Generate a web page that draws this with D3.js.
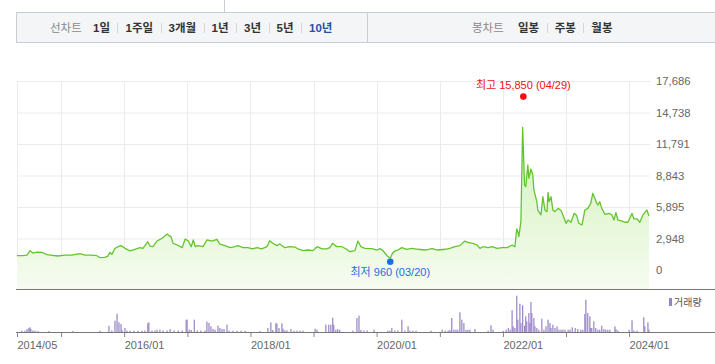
<!DOCTYPE html>
<html>
<head>
<meta charset="utf-8">
<script src="https://cdn.jsdelivr.net/npm/d3@7"></script>
<style>
body { margin: 0; background: #fff; }
svg { display: block; font-family: "Liberation Sans", "Noto Sans CJK KR", sans-serif; }
</style>
</head>
<body>
<div id="chart"></div>
<script>
// Period / chart type tabs
var periodTabs = ["1일", "1주일", "3개월", "1년", "3년", "5년", "10년"];
var activePeriod = "10년";
var candleTabs = ["일봉", "주봉", "월봉"];

// Y axis ticks
var yTicks = [0, 2948, 5895, 8843, 11791, 14738, 17686];

// X axis ticks (first one is the start of the range)
var xTickDates = ["2014-04-21", "2015-01-01", "2016-01-01", "2017-01-01", "2018-01-01", "2019-01-01",
                  "2020-01-01", "2021-01-01", "2022-01-01", "2023-01-01", "2024-01-01"];
var xTickLabels = ["2014/05", "", "2016/01", "", "2018/01", "", "2020/01", "", "2022/01", "", "2024/01"];

// High / low markers
var highPoint = { date: "2022-04-29", value: 15850, label: "최고 15,850 (04/29)" };
var lowPoint = { date: "2020-03-20", value: 960, label: "최저 960 (03/20)" };

// Closing price
var price = [
["2014-04-21",1340],["2014-05-25",1340],["2014-06-18",1400],["2014-07-05",1810],["2014-07-22",1590],["2014-08-15",1680],
["2014-09-13",1650],["2014-10-12",1430],["2014-11-10",1370],["2014-12-14",1310],["2015-01-24",1400],["2015-03-04",1400],
["2015-04-20",1530],["2015-05-19",1400],["2015-06-28",1400],["2015-07-27",1340],["2015-08-14",1150],["2015-09-12",1180],
["2015-09-29",1300],["2015-10-11",1650],["2015-10-22",1460],["2015-11-09",2030],["2015-11-26",2180],["2015-12-14",2280],
["2016-01-06",2030],["2016-02-05",1780],["2016-03-03",1940],["2016-04-02",2090],["2016-04-19",2030],["2016-05-17",2650],
["2016-05-29",2240],["2016-06-16",2180],["2016-07-09",2710],["2016-08-07",2960],["2016-09-06",3370],["2016-09-17",3210],
["2016-09-28",3120],["2016-10-10",2500],["2016-11-03",2340],["2016-12-02",2090],["2016-12-19",2900],["2017-01-06",2710],
["2017-01-23",2180],["2017-02-04",2810],["2017-02-16",2180],["2017-03-03",2280],["2017-04-01",2180],["2017-04-24",2810],
["2017-05-23",2710],["2017-06-21",2870],["2017-07-08",2430],["2017-08-07",2280],["2017-09-05",2090],["2017-10-04",2180],
["2017-10-21",2280],["2017-11-19",2090],["2017-12-18",2090],["2018-01-10",1970],["2018-02-09",2090],["2018-03-07",1970],
["2018-04-06",2180],["2018-04-23",2740],["2018-05-10",2500],["2018-06-03",2280],["2018-06-20",2430],["2018-07-19",2090],
["2018-08-17",2180],["2018-09-16",2150],["2018-10-03",1970],["2018-11-01",1810],["2018-11-30",1870],["2018-12-29",1810],
["2019-01-21",2180],["2019-02-20",1970],["2019-03-18",1970],["2019-04-05",2090],["2019-04-22",2500],["2019-05-15",2180],
["2019-06-14",2180],["2019-07-12",1940],["2019-07-29",1710],["2019-08-28",1810],["2019-09-15",2710],["2019-10-02",2180],
["2019-10-25",2030],["2019-12-05",2000],["2020-01-04",1870],["2020-01-21",2000],["2020-02-08",1780],["2020-03-01",1340],
["2020-03-20",1090],["2020-04-02",1560],["2020-04-16",1780],["2020-05-03",1870],["2020-05-26",2090],["2020-06-24",1940],
["2020-07-23",2030],["2020-08-27",1940],["2020-10-07",1870],["2020-11-17",2000],["2020-12-21",1870],["2021-02-01",1940],
["2021-02-28",2030],["2021-03-29",2180],["2021-04-27",2280],["2021-05-25",2710],["2021-06-12",2590],["2021-07-11",2500],
["2021-08-04",2340],["2021-08-21",2030],["2021-09-08",2180],["2021-10-07",2090],["2021-10-30",2180],["2021-11-28",2030],
["2021-12-27",2090],["2022-01-25",2090],["2022-02-23",2340],["2022-03-11",2180],["2022-03-22",3840],["2022-03-28",3590],
["2022-04-03",3120],["2022-04-15",4520],["2022-04-25",13350],["2022-05-01",10450],["2022-05-06",7950],["2022-05-13",7800],
["2022-05-25",9830],["2022-05-31",8580],["2022-06-12",9450],["2022-06-23",8890],["2022-06-29",7490],["2022-07-16",6390],
["2022-07-22",5610],["2022-08-09",5150],["2022-08-20",6860],["2022-09-01",5610],["2022-09-13",5460],["2022-09-19",7270],
["2022-09-25",6390],["2022-10-06",6860],["2022-10-17",5610],["2022-10-29",5460],["2022-11-16",5770],["2022-12-03",5560],
["2022-12-14",5150],["2023-01-01",4370],["2023-01-13",4680],["2023-01-30",4470],["2023-02-17",5300],["2023-03-04",5090],
["2023-03-16",4370],["2023-04-03",4210],["2023-04-20",5610],["2023-05-07",5770],["2023-05-24",6240],["2023-06-05",7180],
["2023-06-28",6240],["2023-07-04",6080],["2023-07-15",6390],["2023-07-27",5770],["2023-08-14",5210],["2023-09-07",5300],
["2023-09-24",5150],["2023-10-05",4680],["2023-10-17",5370],["2023-10-28",4680],["2023-11-21",4580],["2023-12-08",4470],
["2023-12-25",4470],["2024-01-18",5300],["2024-01-29",4790],["2024-02-16",4790],["2024-03-03",4470],["2024-03-21",5150],
["2024-04-13",5610],["2024-04-25",5050]
];

// Volume (relative units)
var volume = [
["2014-05-19",13],["2014-06-06",13],["2014-06-18",30],["2014-06-29",40],["2014-07-05",47],["2014-07-10",30],["2014-07-22",15],
["2014-08-03",13],["2014-08-20",10],["2014-10-23",10],["2015-03-10",10],["2015-08-14",13],["2015-10-05",63],["2015-10-22",15],
["2015-11-09",113],["2015-11-21",183],["2015-12-02",97],["2015-12-14",80],["2015-12-19",20],["2016-01-06",40],["2016-01-18",13],
["2016-02-05",13],["2016-02-27",13],["2016-03-21",13],["2016-04-13",13],["2016-04-30",15],["2016-05-17",87],["2016-05-23",97],
["2016-06-10",15],["2016-06-27",15],["2016-07-09",23],["2016-07-26",23],["2016-08-13",15],["2016-09-06",15],["2016-09-23",30],
["2016-10-16",15],["2016-11-09",15],["2016-12-02",15],["2016-12-25",123],["2016-12-30",123],["2017-01-11",25],["2017-01-23",20],
["2017-02-10",123],["2017-02-27",15],["2017-03-20",15],["2017-04-13",15],["2017-04-24",103],["2017-05-06",90],["2017-05-17",57],
["2017-05-29",30],["2017-06-10",23],["2017-06-27",63],["2017-07-08",40],["2017-07-20",30],["2017-08-01",30],["2017-08-18",73],
["2017-08-30",13],["2017-09-22",13],["2017-10-15",13],["2017-11-08",13],["2017-12-01",13],["2018-02-26",10],["2018-04-12",40],
["2018-04-29",97],["2018-05-10",20],["2018-05-28",87],["2018-06-03",87],["2018-06-15",40],["2018-07-02",87],["2018-07-08",33],
["2018-07-19",17],["2018-07-31",17],["2018-08-23",30],["2018-09-10",13],["2018-09-27",13],["2018-10-14",13],["2018-11-01",13],
["2019-01-10",33],["2019-01-21",23],["2019-03-13",73],["2019-03-30",73],["2019-04-11",73],["2019-04-22",143],["2019-04-28",73],
["2019-05-10",23],["2019-05-21",30],["2019-06-02",23],["2019-08-17",13],["2019-09-09",140],["2019-09-21",163],["2019-10-02",20],
["2019-10-19",15],["2019-11-07",15],["2019-12-17",23],["2020-03-06",13],["2020-03-18",13],["2020-03-29",40],["2020-04-16",15],
["2020-05-03",15],["2020-05-26",123],["2020-06-13",15],["2020-07-01",57],["2020-07-12",13],["2020-07-29",13],["2020-08-16",13],
["2020-11-11",13],["2021-01-14",23],["2021-02-01",13],["2021-02-18",13],["2021-02-28",20],["2021-03-11",140],["2021-03-23",23],
["2021-04-04",23],["2021-04-15",23],["2021-04-27",197],["2021-05-08",123],["2021-05-20",90],["2021-06-01",20],["2021-06-12",23],
["2021-06-24",23],["2021-07-23",30],["2021-10-07",13],["2021-10-24",67],["2021-11-05",23],["2022-01-02",13],["2022-01-19",23],
["2022-02-01",40],["2022-02-12",23],["2022-02-23",217],["2022-03-01",57],["2022-03-11",40],["2022-03-22",363],["2022-03-28",123],
["2022-04-09",283],["2022-04-15",90],["2022-04-25",267],["2022-05-06",63],["2022-05-13",157],["2022-05-19",107],["2022-05-31",190],
["2022-06-06",90],["2022-06-12",300],["2022-06-17",190],["2022-06-29",140],["2022-07-05",57],["2022-07-16",40],["2022-07-28",23],
["2022-08-14",133],["2022-08-26",23],["2022-09-07",57],["2022-09-19",123],["2022-09-30",90],["2022-10-06",40],["2022-10-17",73],
["2022-10-29",40],["2022-11-10",57],["2022-11-21",23],["2022-12-03",23],["2022-12-14",23],["2022-12-26",23],["2023-01-13",23],
["2023-01-24",23],["2023-02-06",47],["2023-02-23",40],["2023-03-10",30],["2023-03-27",23],["2023-04-08",23],["2023-04-20",180],
["2023-04-26",323],["2023-05-07",190],["2023-05-19",157],["2023-05-24",40],["2023-05-30",40],["2023-06-11",107],["2023-06-22",40],
["2023-07-04",23],["2023-07-15",23],["2023-07-27",63],["2023-08-08",30],["2023-08-19",23],["2023-08-31",23],["2023-09-12",23],
["2023-10-11",57],["2023-10-17",30],["2023-10-28",15],["2024-01-01",23],["2024-01-18",117],["2024-01-29",15],["2024-02-16",13],
["2024-03-26",147],["2024-04-01",57],["2024-04-19",97],["2024-04-25",23]
];

var svgWidth = 715, svgHeight = 364;
var plot = { left: 17, right: 650, top: 81, zero: 270, bottom: 289, volBottom: 332 };
var parseDate = d3.timeParse("%Y-%m-%d");

var svg = d3.select("#chart").append("svg")
    .attr("width", svgWidth)
    .attr("height", svgHeight);

// ---------- top tab bar ----------
svg.append("line")
    .attr("x1", 224.5).attr("x2", 224.5).attr("y1", 0).attr("y2", 12)
    .attr("stroke", "#c9cdd3");
svg.append("rect")
    .attr("x", 16.5).attr("y", 12.5)
    .attr("width", svgWidth).attr("height", 30)
    .attr("fill", "#f4f5f7")
    .attr("stroke", "#c9cdd3");
svg.append("line")
    .attr("x1", 367.5).attr("x2", 367.5).attr("y1", 12).attr("y2", 43)
    .attr("stroke", "#c9cdd3");

function drawTabs(label, labelX, tabs, startX, active) {
    var g = svg.append("g").attr("font-size", "11.5px");
    g.append("text").attr("x", labelX).attr("y", 32).attr("fill", "#8a8a8a").text(label);
    var cx = startX;
    tabs.forEach(function(t, i) {
        var txt = g.append("text")
            .attr("x", cx).attr("y", 32)
            .attr("font-weight", "bold")
            .attr("fill", t === active ? "#2b4ea8" : "#333")
            .text(t);
        var w = txt.node().getComputedTextLength();
        if (i < tabs.length - 1) {
            g.append("line")
                .attr("x1", Math.round(cx + w + 7.5) + 0.5).attr("x2", Math.round(cx + w + 7.5) + 0.5)
                .attr("y1", 23).attr("y2", 33)
                .attr("stroke", "#d6d6d6");
        }
        cx += w + 15.5;
    });
}
drawTabs("선차트", 50, periodTabs, 93, activePeriod);
drawTabs("봉차트", 472, candleTabs, 518, null);

// ---------- scales ----------
price.forEach(function(d) { d.date = parseDate(d[0]); d.value = +d[1]; });
volume.forEach(function(d) { d.date = parseDate(d[0]); d.value = +d[1]; });

var xScale = d3.scaleTime()
    .domain([parseDate("2014-04-21"), parseDate("2024-05-01")])
    .range([plot.left, plot.right]);
var yScale = d3.scaleLinear()
    .domain([0, 17686])
    .range([plot.zero, plot.top]);
var volScale = d3.scaleLinear()
    .domain([0, 430])
    .range([plot.volBottom, plot.bottom]);

var tickDates = xTickDates.map(parseDate);

// ---------- grid ----------
var yAxis = d3.axisRight(yScale)
    .tickValues(yTicks)
    .tickSize(-(plot.right - plot.left))
    .tickPadding(6)
    .tickFormat(d3.format(","));
var yAxisG = svg.append("g")
    .attr("transform", `translate(${plot.right}, 0)`)
    .call(yAxis);
yAxisG.select(".domain").remove();
yAxisG.selectAll(".tick line").attr("stroke", "#ebebeb");
yAxisG.selectAll(".tick text")
    .attr("fill", "#666")
    .attr("font-size", "11.3px")
    .attr("font-family", "Liberation Sans, sans-serif");

svg.append("g").selectAll("line")
    .data(tickDates)
    .enter().append("line")
    .attr("x1", d => Math.round(xScale(d)) + 0.5)
    .attr("x2", d => Math.round(xScale(d)) + 0.5)
    .attr("y1", plot.top)
    .attr("y2", plot.bottom)
    .attr("stroke", "#ebebeb");

// ---------- price area + line ----------
var defs = svg.append("defs");
var grad = defs.append("linearGradient")
    .attr("id", "priceFill")
    .attr("gradientUnits", "userSpaceOnUse")
    .attr("x1", 0).attr("x2", 0)
    .attr("y1", plot.top).attr("y2", plot.bottom);
grad.append("stop").attr("offset", "0%").attr("stop-color", "#c6eea6");
grad.append("stop").attr("offset", "100%").attr("stop-color", "#f6fcf1");

var area = d3.area()
    .x(d => xScale(d.date))
    .y0(plot.bottom)
    .y1(d => yScale(d.value));
svg.append("path")
    .datum(price)
    .attr("d", area)
    .attr("fill", "url(#priceFill)");

var line = d3.line()
    .x(d => xScale(d.date))
    .y(d => yScale(d.value));
svg.append("path")
    .datum(price)
    .attr("d", line)
    .attr("fill", "none")
    .attr("stroke", "#62c52c")
    .attr("stroke-width", 1.3)
    .attr("stroke-linejoin", "round");

// ---------- high / low markers ----------
var hx = xScale(parseDate(highPoint.date));
var hy = yScale(highPoint.value) - 4;
svg.append("circle").attr("cx", hx).attr("cy", hy).attr("r", 3.3).attr("fill", "#f01010");
svg.append("text")
    .attr("x", hx).attr("y", hy - 8)
    .attr("text-anchor", "middle")
    .attr("font-size", "11px")
    .attr("fill", "#f01010")
    .text(highPoint.label);

var lx = xScale(parseDate(lowPoint.date));
var ly = yScale(lowPoint.value) + 2;
svg.append("circle").attr("cx", lx).attr("cy", ly).attr("r", 3.3).attr("fill", "#1c6ee0");
svg.append("text")
    .attr("x", lx).attr("y", ly + 14)
    .attr("text-anchor", "middle")
    .attr("font-size", "11px")
    .attr("fill", "#1c6ee0")
    .text(lowPoint.label);

// ---------- volume ----------
svg.append("g").selectAll("rect")
    .data(volume)
    .enter().append("rect")
    .attr("x", d => xScale(d.date) - 0.6)
    .attr("width", 1.2)
    .attr("y", d => volScale(d.value))
    .attr("height", d => plot.volBottom - volScale(d.value))
    .attr("fill", "#9784c6");

// panel separators
[plot.bottom, plot.volBottom].forEach(function(yy) {
    svg.append("line")
        .attr("x1", 16).attr("x2", svgWidth)
        .attr("y1", yy + 0.5).attr("y2", yy + 0.5)
        .attr("stroke", "#777");
});

// volume legend
svg.append("rect").attr("x", 669).attr("y", 298).attr("width", 3).attr("height", 8).attr("fill", "#9784c6");
svg.append("text")
    .attr("x", 674).attr("y", 306)
    .attr("font-size", "10px")
    .attr("fill", "#555")
    .text("거래량");

// ---------- x axis ----------
var xAxis = d3.axisBottom(xScale)
    .tickValues(tickDates)
    .tickSize(4)
    .tickPadding(4)
    .tickFormat((d, i) => xTickLabels[i]);
var xAxisG = svg.append("g")
    .attr("transform", `translate(0, ${plot.volBottom + 1})`)
    .call(xAxis);
xAxisG.select(".domain").remove();
xAxisG.selectAll(".tick line").attr("stroke", "#888");
xAxisG.selectAll(".tick text")
    .attr("text-anchor", "start")
    .attr("fill", "#666")
    .attr("font-size", "11px")
    .attr("font-family", "Liberation Sans, sans-serif");
</script>
</body>
</html>
